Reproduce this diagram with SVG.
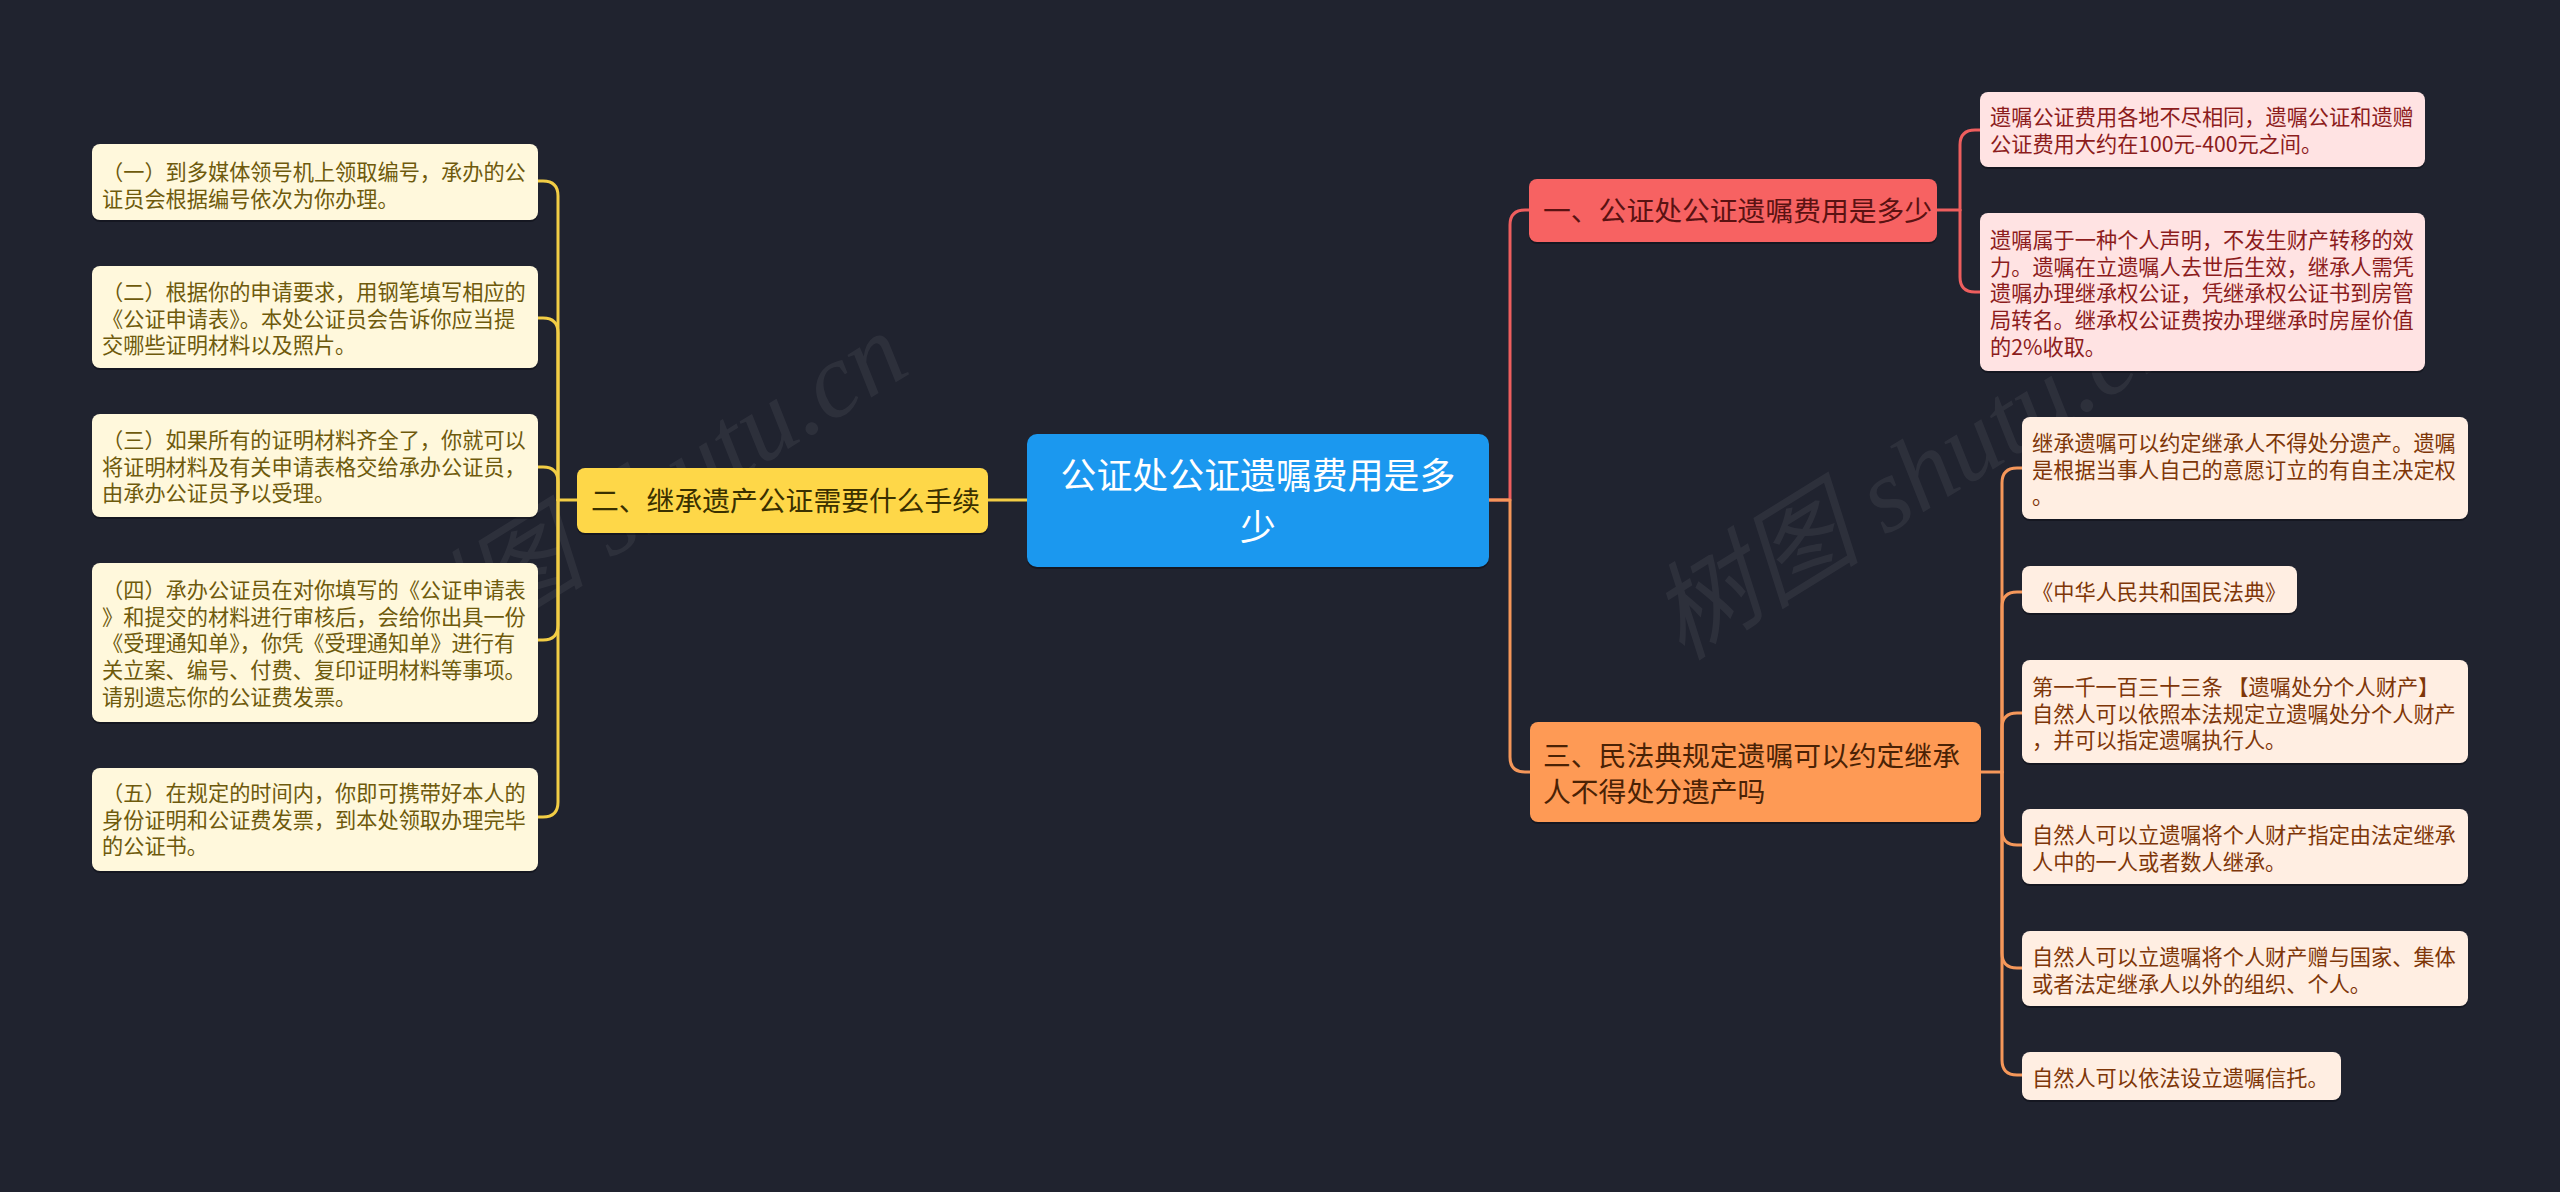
<svg xmlns="http://www.w3.org/2000/svg" width="2560" height="1192" viewBox="0 0 2560 1192">
<style>
text{font-family:"Noto Sans CJK SC","Noto Sans",sans-serif}
.lk{fill:none;stroke-width:3;stroke-linecap:round;stroke-linejoin:round}
.ly{stroke:#f2cd45}.lr{stroke:#ee5e5e}.lo{stroke:#f5975a}
.sh{fill:#0c0e15;opacity:.55}
.t{font-size:21.2px}
.tl{fill:#6e5a0c}.tr{fill:#8c1c1c}.to{fill:#7e3608}
.bl{fill:#fff8dc}.br{fill:#ffe3e3}.bo{fill:#ffeee2}
.wm{font-family:"Liberation Serif","Noto Sans CJK SC",serif;font-style:italic;font-size:106px;fill:#9a9aa0;opacity:.11}
</style>
<rect width="2560" height="1192" fill="#20232f"/>
<g id="watermark">
<text class="wm" x="660" y="528" text-anchor="middle" transform="rotate(-31.7 660 528)">树图 shutu.cn</text>
<text class="wm" x="1935" y="505" text-anchor="middle" transform="rotate(-31.7 1935 505)">树图 shutu.cn</text>
</g>
<g id="connectors">
<path class="lk ly" d="M1027,500 L988,500"/>
<path class="lk ly" d="M577,500 L558,500"/>
<path class="lk ly" d="M558,500 L558,196 Q558,181 543,181 L538,181"/>
<path class="lk ly" d="M558,500 L558,333 Q558,318 543,318 L538,318"/>
<path class="lk ly" d="M558,500 L558,482 Q558,467 543,467 L538,467"/>
<path class="lk ly" d="M558,500 L558,625 Q558,640 543,640 L538,640"/>
<path class="lk ly" d="M558,500 L558,802 Q558,817 543,817 L538,817"/>
<path class="lk lr" d="M1489,500 L1510,500 L1510,225 Q1510,210 1525,210 L1529,210"/>
<path class="lk lo" d="M1489,500 L1510,500 L1510,757 Q1510,772 1525,772 L1530,772"/>
<path class="lk lr" d="M1937,210 L1960,210"/>
<path class="lk lr" d="M1960,210 L1960,145 Q1960,130 1975,130 L1980,130"/>
<path class="lk lr" d="M1960,210 L1960,277 Q1960,292 1975,292 L1980,292"/>
<path class="lk lo" d="M1981,772 L2002,772"/>
<path class="lk lo" d="M2002,772 L2002,483 Q2002,468 2017,468 L2022,468"/>
<path class="lk lo" d="M2002,772 L2002,607 Q2002,592 2017,592 L2022,592"/>
<path class="lk lo" d="M2002,772 L2002,728 Q2002,713 2017,713 L2022,713"/>
<path class="lk lo" d="M2002,772 L2002,830 Q2002,845 2017,845 L2022,845"/>
<path class="lk lo" d="M2002,772 L2002,953 Q2002,968 2017,968 L2022,968"/>
<path class="lk lo" d="M2002,772 L2002,1060 Q2002,1075 2017,1075 L2022,1075"/>
</g>
<g id="root">
<rect class="sh" x="1027" y="436" width="462" height="133" rx="10"/>
<rect x="1027" y="434" width="462" height="133" rx="10" fill="#1b98ef"/>
<text x="1258" y="489" text-anchor="middle" font-size="35.9" fill="#ffffff"><tspan x="1258">公证处公证遗嘱费用是多</tspan><tspan x="1258" dy="52">少</tspan></text>
</g>
<g id="n1">
<rect class="sh" x="1529" y="181" width="408" height="63" rx="8"/>
<rect x="1529" y="179" width="408" height="63" rx="8" fill="#f76262"/>
<text x="1543" y="221" font-size="27.8" fill="#5a1212">一、公证处公证遗嘱费用是多少</text>
</g>
<g id="n2">
<rect class="sh" x="577" y="470" width="411" height="65" rx="8"/>
<rect x="577" y="468" width="411" height="65" rx="8" fill="#fed748"/>
<text x="591" y="511" font-size="27.8" fill="#3a3000">二、继承遗产公证需要什么手续</text>
</g>
<g id="n3">
<rect class="sh" x="1530" y="724" width="451" height="100" rx="8"/>
<rect x="1530" y="722" width="451" height="100" rx="8" fill="#fe9a55"/>
<text x="1543" y="766" font-size="27.8" fill="#4a2205"><tspan x="1543">三、民法典规定遗嘱可以约定继承</tspan><tspan x="1543" dy="36">人不得处分遗产吗</tspan></text>
</g>
<g id="l1">
<rect class="sh" x="92" y="146" width="446" height="76" rx="8"/>
<rect class="bl" x="92" y="144" width="446" height="76" rx="8"/>
<text class="t tl" x="102" y="180"><tspan x="102">（一）到多媒体领号机上领取编号，承办的公</tspan><tspan x="102" dy="26.7">证员会根据编号依次为你办理。</tspan></text>
</g>
<g id="l2">
<rect class="sh" x="92" y="268" width="446" height="102" rx="8"/>
<rect class="bl" x="92" y="266" width="446" height="102" rx="8"/>
<text class="t tl" x="102" y="300"><tspan x="102">（二）根据你的申请要求，用钢笔填写相应的</tspan><tspan x="102" dy="26.7">《公证申请表》。本处公证员会告诉你应当提</tspan><tspan x="102" dy="26.7">交哪些证明材料以及照片。</tspan></text>
</g>
<g id="l3">
<rect class="sh" x="92" y="416" width="446" height="103" rx="8"/>
<rect class="bl" x="92" y="414" width="446" height="103" rx="8"/>
<text class="t tl" x="102" y="448"><tspan x="102">（三）如果所有的证明材料齐全了，你就可以</tspan><tspan x="102" dy="26.7">将证明材料及有关申请表格交给承办公证员，</tspan><tspan x="102" dy="26.7">由承办公证员予以受理。</tspan></text>
</g>
<g id="l4">
<rect class="sh" x="92" y="565" width="446" height="159" rx="8"/>
<rect class="bl" x="92" y="563" width="446" height="159" rx="8"/>
<text class="t tl" x="102" y="598"><tspan x="102">（四）承办公证员在对你填写的《公证申请表</tspan><tspan x="102" dy="26.7">》和提交的材料进行审核后，会给你出具一份</tspan><tspan x="102" dy="26.7">《受理通知单》，你凭《受理通知单》进行有</tspan><tspan x="102" dy="26.7">关立案、编号、付费、复印证明材料等事项。</tspan><tspan x="102" dy="26.7">请别遗忘你的公证费发票。</tspan></text>
</g>
<g id="l5">
<rect class="sh" x="92" y="770" width="446" height="103" rx="8"/>
<rect class="bl" x="92" y="768" width="446" height="103" rx="8"/>
<text class="t tl" x="102" y="801"><tspan x="102">（五）在规定的时间内，你即可携带好本人的</tspan><tspan x="102" dy="26.7">身份证明和公证费发票，到本处领取办理完毕</tspan><tspan x="102" dy="26.7">的公证书。</tspan></text>
</g>
<g id="r1a">
<rect class="sh" x="1980" y="94" width="445" height="75" rx="8"/>
<rect class="br" x="1980" y="92" width="445" height="75" rx="8"/>
<text class="t tr" x="1990" y="125"><tspan x="1990">遗嘱公证费用各地不尽相同，遗嘱公证和遗赠</tspan><tspan x="1990" dy="26.7">公证费用大约在100元-400元之间。</tspan></text>
</g>
<g id="r1b">
<rect class="sh" x="1980" y="215" width="445" height="158" rx="8"/>
<rect class="br" x="1980" y="213" width="445" height="158" rx="8"/>
<text class="t tr" x="1990" y="248"><tspan x="1990">遗嘱属于一种个人声明，不发生财产转移的效</tspan><tspan x="1990" dy="26.7">力。遗嘱在立遗嘱人去世后生效，继承人需凭</tspan><tspan x="1990" dy="26.7">遗嘱办理继承权公证，凭继承权公证书到房管</tspan><tspan x="1990" dy="26.7">局转名。继承权公证费按办理继承时房屋价值</tspan><tspan x="1990" dy="26.7">的2%收取。</tspan></text>
</g>
<g id="c1">
<rect class="sh" x="2022" y="419" width="446" height="102" rx="8"/>
<rect class="bo" x="2022" y="417" width="446" height="102" rx="8"/>
<text class="t to" x="2032" y="451"><tspan x="2032">继承遗嘱可以约定继承人不得处分遗产。遗嘱</tspan><tspan x="2032" dy="26.7">是根据当事人自己的意愿订立的有自主决定权</tspan><tspan x="2032" dy="26.7">。</tspan></text>
</g>
<g id="c2">
<rect class="sh" x="2022" y="568" width="275" height="47" rx="8"/>
<rect class="bo" x="2022" y="566" width="275" height="47" rx="8"/>
<text class="t to" x="2032" y="600">《中华人民共和国民法典》</text>
</g>
<g id="c3">
<rect class="sh" x="2022" y="662" width="446" height="103" rx="8"/>
<rect class="bo" x="2022" y="660" width="446" height="103" rx="8"/>
<text class="t to" x="2032" y="695"><tspan x="2032">第一千一百三十三条 【遗嘱处分个人财产】</tspan><tspan x="2032" dy="26.7">自然人可以依照本法规定立遗嘱处分个人财产</tspan><tspan x="2032" dy="26.7">，并可以指定遗嘱执行人。</tspan></text>
</g>
<g id="c4">
<rect class="sh" x="2022" y="811" width="446" height="75" rx="8"/>
<rect class="bo" x="2022" y="809" width="446" height="75" rx="8"/>
<text class="t to" x="2032" y="843"><tspan x="2032">自然人可以立遗嘱将个人财产指定由法定继承</tspan><tspan x="2032" dy="26.7">人中的一人或者数人继承。</tspan></text>
</g>
<g id="c5">
<rect class="sh" x="2022" y="933" width="446" height="75" rx="8"/>
<rect class="bo" x="2022" y="931" width="446" height="75" rx="8"/>
<text class="t to" x="2032" y="965"><tspan x="2032">自然人可以立遗嘱将个人财产赠与国家、集体</tspan><tspan x="2032" dy="26.7">或者法定继承人以外的组织、个人。</tspan></text>
</g>
<g id="c6">
<rect class="sh" x="2022" y="1054" width="319" height="48" rx="8"/>
<rect class="bo" x="2022" y="1052" width="319" height="48" rx="8"/>
<text class="t to" x="2032" y="1086">自然人可以依法设立遗嘱信托。</text>
</g>
</svg>
